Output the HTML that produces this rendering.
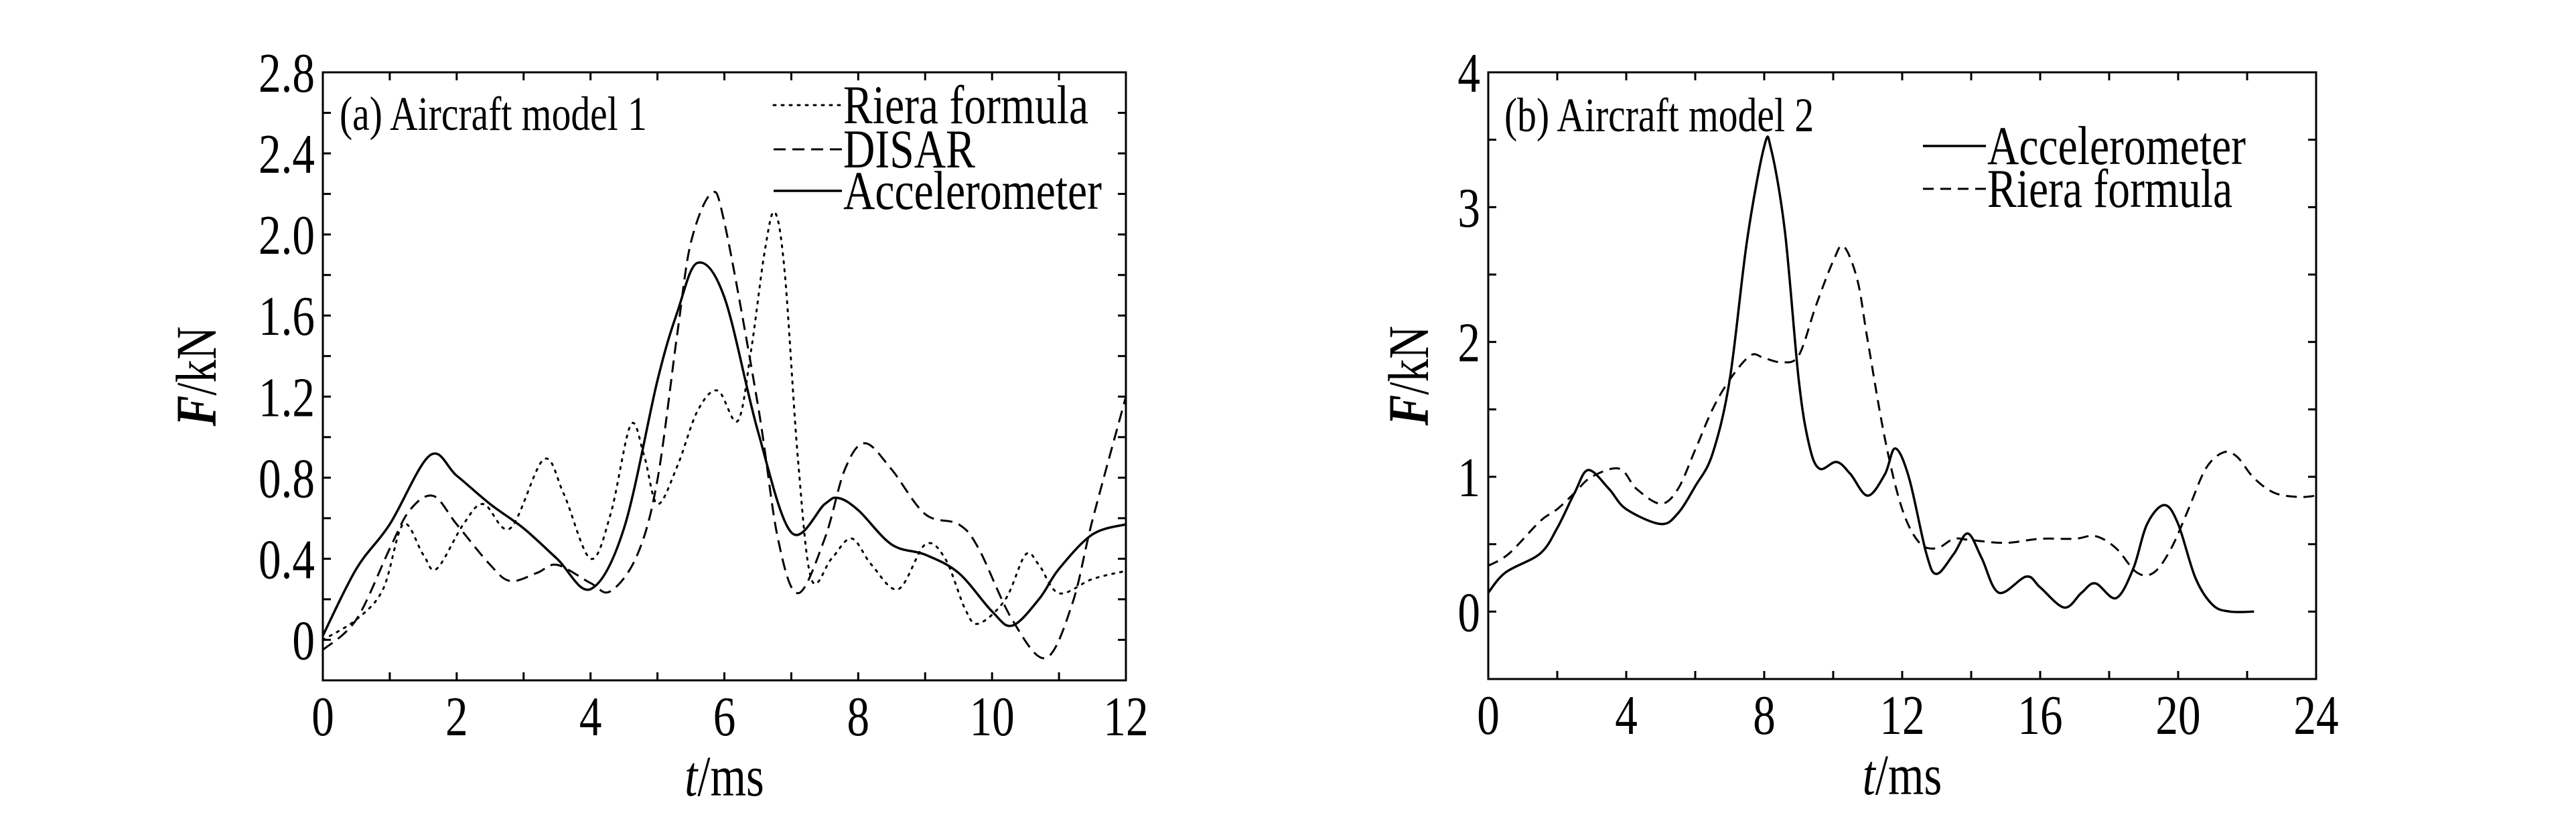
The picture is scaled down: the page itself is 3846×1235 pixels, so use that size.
<!DOCTYPE html>
<html><head><meta charset="utf-8"><style>
html,body{margin:0;padding:0;background:#fff;}
svg{display:block;}
text{font-family:"Liberation Serif",serif;fill:#000;}
</style></head><body>
<svg id="c" width="3846" height="1235" viewBox="0 0 3846 1235" xmlns="http://www.w3.org/2000/svg"></svg>
<script>
// ---- Chart (a) data ----
const aAccT=[0,0.5,1,1.6,2,2.5,3,3.5,4,4.5,5,5.3,5.6,6,6.5,7,7.5,7.7,8,8.5,9,9.5,10,10.3,10.7,11,11.5,12];
const aAccV=[0.02,0.35,0.57,0.91,0.81,0.67,0.55,0.40,0.25,0.55,1.28,1.62,1.86,1.69,1.03,0.53,0.67,0.70,0.64,0.47,0.42,0.33,0.14,0.07,0.2,0.35,0.52,0.57];
const aDisT=[0,0.5,1,1.3,1.65,2,2.5,2.8,3.2,3.5,4,4.3,4.7,5,5.3,5.5,5.8,6,6.5,6.8,7.1,7.5,7.8,8.1,8.5,9,9.5,9.8,10.3,10.8,11.2,11.5,12];
const aDisV=[-0.05,0.1,0.45,0.64,0.71,0.57,0.37,0.29,0.33,0.37,0.28,0.24,0.42,0.79,1.52,1.96,2.2,2.06,1.16,0.5,0.23,0.5,0.84,0.97,0.84,0.62,0.57,0.45,0.1,-0.09,0.18,0.59,1.2];
const aRieT=[0,0.5,0.9,1.2,1.5,1.7,2.1,2.4,2.8,3.3,3.6,4,4.3,4.6,4.8,5,5.3,5.6,5.9,6.2,6.4,6.6,6.75,6.9,7.1,7.3,7.6,7.9,8.2,8.6,9,9.3,9.6,9.8,10.2,10.5,10.7,11,11.5,12];
const aRieV=[0,0.1,0.25,0.57,0.42,0.35,0.57,0.67,0.55,0.89,0.72,0.40,0.62,1.06,0.91,0.67,0.86,1.13,1.23,1.08,1.43,1.91,2.11,1.82,0.89,0.30,0.40,0.50,0.37,0.25,0.47,0.40,0.15,0.08,0.2,0.42,0.37,0.23,0.3,0.34];
const aXTicks=["0","2","4","6","8","10","12"];
const aYTicks=["0","0.4","0.8","1.2","1.6","2.0","2.4","2.8"];
// ---- Chart (b) data ----
const bAccT=[0,0.5,1.5,2,2.5,2.9,3.5,4,5,5.5,6,6.5,7,7.5,8,8.2,8.6,9,9.3,9.6,10.1,10.5,11,11.5,11.8,12.2,12.7,13,13.5,13.9,14.3,14.8,15.6,16,16.7,17.2,17.6,18.2,18.7,19.1,19.6,20,20.5,21,21.5,22.2];
const bAccV=[0.14,0.29,0.43,0.62,0.88,1.05,0.91,0.76,0.65,0.73,0.93,1.17,1.72,2.75,3.45,3.43,2.82,1.72,1.24,1.06,1.11,1.02,0.86,1.02,1.21,0.99,0.43,0.28,0.43,0.58,0.40,0.14,0.26,0.18,0.03,0.14,0.21,0.10,0.32,0.65,0.79,0.65,0.25,0.05,0,0];
const bRieT=[0,0.6,1.5,2,2.5,3,3.8,4.3,5,5.5,6,6.5,7,7.6,8,8.5,9,9.5,10,10.3,10.7,11,11.5,12,12.5,13,13.5,14,15,16,17,17.6,18.2,18.8,19.3,19.8,20.3,20.8,21.3,21.7,22.2,22.8,23.5,24];
const bRieV=[0.34,0.43,0.67,0.76,0.88,1.0,1.06,0.91,0.80,0.91,1.2,1.5,1.72,1.90,1.88,1.85,1.90,2.27,2.6,2.71,2.46,2.01,1.28,0.76,0.51,0.47,0.54,0.53,0.51,0.54,0.54,0.56,0.47,0.29,0.29,0.47,0.76,1.06,1.18,1.15,0.99,0.88,0.85,0.86];
const bXTicks=["0","4","8","12","16","20","24"];
const bYTicks=["0","1","2","3","4"];

const NS="http://www.w3.org/2000/svg";
const svg=document.getElementById('c');
const SX=0.8;
function mk(tag,attrs,parent){const e=document.createElementNS(NS,tag);for(const k in attrs)e.setAttribute(k,attrs[k]);(parent||svg).appendChild(e);return e;}
function txt(x,y,size,anchor,parent,rot){
 const tr=rot?`translate(${x},${y}) rotate(-90) scale(${SX},1)`:`translate(${x},${y}) scale(${SX},1)`;
 return mk('text',{x:0,y:0,'font-size':size,'text-anchor':anchor,transform:tr},parent);}
function smooth(pts){let d="M"+pts[0][0].toFixed(1)+","+pts[0][1].toFixed(1);
 for(let i=0;i<pts.length-1;i++){const p0=pts[i-1]||pts[i],p1=pts[i],p2=pts[i+1],p3=pts[i+2]||p2;
  const c1=[p1[0]+(p2[0]-p0[0])/6,p1[1]+(p2[1]-p0[1])/6],c2=[p2[0]-(p3[0]-p1[0])/6,p2[1]-(p3[1]-p1[1])/6];
  d+="C"+c1[0].toFixed(1)+","+c1[1].toFixed(1)+" "+c2[0].toFixed(1)+","+c2[1].toFixed(1)+" "+p2[0].toFixed(1)+","+p2[1].toFixed(1);}
 return d;}

function chart(o){
 const g=mk('g',{});
 
 
 const X=t=>o.L+(t-o.x0)/(o.x1-o.x0)*(o.R-o.L);
 const Y=v=>o.B-(v-o.y0)/(o.y1-o.y0)*(o.B-o.T);
 const fr=mk('rect',{x:o.L,y:o.T,width:o.R-o.L,height:o.B-o.T,fill:'none',stroke:'#000','stroke-width':3},g);
 
 
 for(let t=o.x0;t<=o.x1+1e-9;t+=o.xm){const x=X(t);
  mk('line',{x1:x,y1:o.B,x2:x,y2:o.B-12,stroke:'#000','stroke-width':3},g);
  mk('line',{x1:x,y1:o.T,x2:x,y2:o.T+12,stroke:'#000','stroke-width':3},g);}
 for(let v=o.y0;v<=o.y1+1e-9;v+=o.ym){const y=Y(v);
  mk('line',{x1:o.L,y1:y,x2:o.L+12,y2:y,stroke:'#000','stroke-width':3},g);
  mk('line',{x1:o.R,y1:y,x2:o.R-12,y2:y,stroke:'#000','stroke-width':3},g);}
 o.xt.forEach(s=>{const t=txt(X(parseFloat(s)),o.B+82,84,'middle',g);t.textContent=s;
  
  });
 o.yt.forEach(s=>{const t=txt(o.L-12,Y(parseFloat(s))+29,84,'end',g);t.textContent=s;
  
  });
 const xl=txt((o.L+o.R)/2,o.B+172,86,'middle',g);
 xl.innerHTML='<tspan font-style="italic">t</tspan>/ms';
 
 
 const yl=txt(o.ylx,(o.T+o.B)/2,86,'middle',g,true);
 yl.innerHTML='<tspan font-style="italic" font-weight="bold">F</tspan>/kN';
 
 
 const ti=txt(o.titleX,o.titleY,72,'start',g);ti.textContent=o.title;
 
 
 o.series.forEach(s=>{
  const pts=s.t.map((t,i)=>[X(t),Y(s.v[i])]);
  const p=mk('path',{d:smooth(pts),fill:'none',stroke:'#000','stroke-width':s.w,'stroke-dasharray':s.dash,'stroke-linecap':s.cap||'butt'},g);
  
  
  const ly=s.ly;
  const ll=mk('line',{x1:o.legX1,y1:ly,x2:o.legX2,y2:ly,stroke:'#000','stroke-width':s.w,'stroke-dasharray':s.dash,'stroke-linecap':s.cap||'butt'},g);
  
  
  const lt=txt(o.legX2+2,ly+27,82,'start',g);lt.textContent=s.label;
  
  
 });
}
chart({name:'chart-a',L:482,R:1681,T:108,B:1016,x0:0,x1:12,y0:-0.2,y1:2.8,xm:1,ym:0.2,xt:aXTicks,yt:aYTicks,
 ylx:322,title:'(a) Aircraft model 1',titleX:507,titleY:194,legX1:1155,legX2:1257,
 series:[
  {name:'riera-line',label:'Riera formula',t:aRieT,v:aRieV,w:3,dash:'3 9',cap:'round',ly:157},
  {name:'disar-line',label:'DISAR',t:aDisT,v:aDisV,w:3,dash:'18 10',ly:223},
  {name:'accelerometer-line',label:'Accelerometer',t:aAccT,v:aAccV,w:3.5,dash:'none',ly:285}]});
chart({name:'chart-b',L:2222,R:3458,T:108,B:1014,x0:0,x1:24,y0:-0.5,y1:4,xm:2,ym:0.5,xt:bXTicks,yt:bYTicks,
 ylx:2132,title:'(b) Aircraft model 2',titleX:2246,titleY:196,legX1:2871,legX2:2965,
 series:[
  {name:'accelerometer-line',label:'Accelerometer',t:bAccT,v:bAccV,w:3.5,dash:'none',ly:218},
  {name:'riera-line',label:'Riera formula',t:bRieT,v:bRieV,w:3,dash:'16 10',ly:282}]});
</script>
</body></html>
